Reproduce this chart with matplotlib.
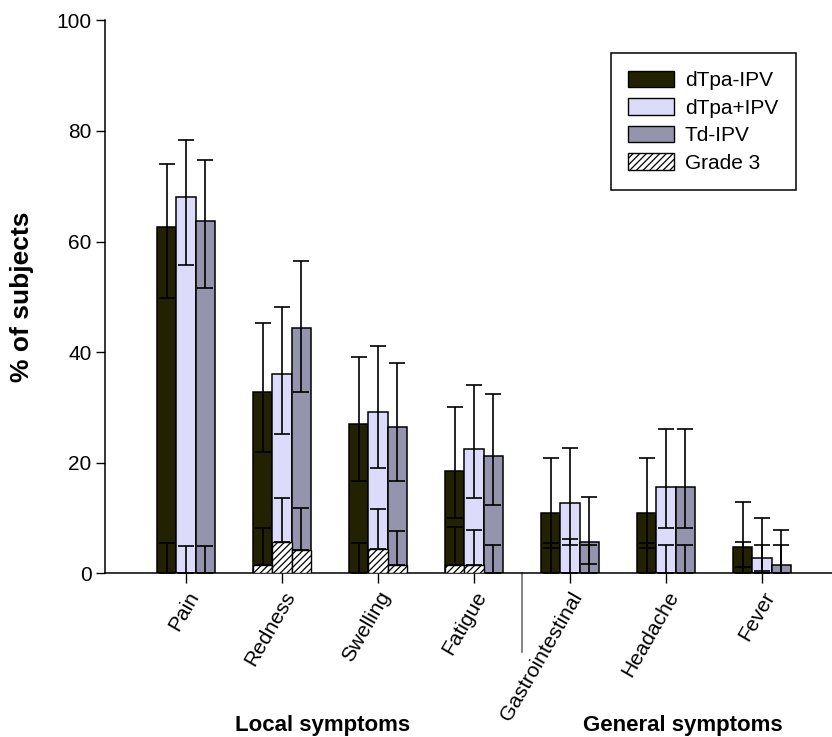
import numpy as np
import matplotlib
matplotlib.use('Agg')
import matplotlib.pyplot as plt
from matplotlib.patches import Patch

plt.rcParams['font.family'] = ['Liberation Sans', 'DejaVu Sans']
plt.rcParams['hatch.linewidth'] = 0.9

# Data
categories = ['Pain', 'Redness', 'Swelling', 'Fatigue', 'Gastrointestinal', 'Headache', 'Fever']
series = ['dTpa-IPV', 'dTpa+IPV', 'Td-IPV']
colors = ['#222200', '#dcdcfa', '#9494ac']

# all grades (%), with 95% CI bounds
dtpa_ipv = [62.7, 32.8, 26.9, 18.5, 10.8, 10.8, 4.65]
dtpa_ipv_hi = [74.1, 45.3, 39.1, 30.0, 20.9, 20.9, 12.9]
dtpa_ipv_lo = [49.8, 21.9, 16.7, 9.9, 4.5, 4.5, 1.0]

dtpa_plus_ipv = [68.0, 36.0, 29.2, 22.5, 12.7, 15.6, 2.8]
dtpa_plus_ipv_hi = [78.4, 48.2, 41.1, 34.1, 22.7, 26.0, 9.9]
dtpa_plus_ipv_lo = [55.8, 25.1, 19.0, 13.6, 5.1, 8.1, 0.3]

td_ipv = [63.8, 44.3, 26.4, 21.1, 5.7, 15.6, 1.5]
td_ipv_hi = [74.8, 56.5, 38.1, 32.4, 13.8, 26.0, 7.7]
td_ipv_lo = [51.6, 32.7, 16.7, 12.3, 1.6, 8.1, 0.0]

# grade 3 (%), with upper CI bound
g3_dtpa_ipv = [0, 1.45, 0, 1.45, 0, 0, 0]
g3_dtpa_ipv_hi = [5.4, 8.1, 5.4, 8.4, 5.5, 5.5, 5.6]
g3_dtpa_plus_ipv = [0, 5.6, 4.3, 1.45, 0, 0, 0]
g3_dtpa_plus_ipv_hi = [4.9, 13.6, 11.6, 7.7, 6.1, 5.1, 5.1]
g3_td_ipv = [0, 4.2, 1.4, 0, 0, 0, 0]
g3_td_ipv_hi = [4.9, 11.7, 7.6, 5.1, 5.1, 5.1, 5.1]

totals = [dtpa_ipv, dtpa_plus_ipv, td_ipv]
his = [dtpa_ipv_hi, dtpa_plus_ipv_hi, td_ipv_hi]
los = [dtpa_ipv_lo, dtpa_plus_ipv_lo, td_ipv_lo]
g3s = [g3_dtpa_ipv, g3_dtpa_plus_ipv, g3_td_ipv]
g3_his = [g3_dtpa_ipv_hi, g3_dtpa_plus_ipv_hi, g3_td_ipv_hi]

fig = plt.figure(figsize=(8.32, 7.37), dpi=100)
ax = fig.add_axes([0.1268, 0.2225, 0.8732, 0.7497])

x = np.arange(len(categories))
width = 0.2
err_kw = dict(fmt='none', ecolor='black', elinewidth=1.2, capsize=5.5, capthick=1.2, zorder=4)

for i in range(3):
    xs = x + (i - 1) * width
    vals = np.array(totals[i])
    ax.bar(xs, vals, width, color=colors[i], edgecolor='black', linewidth=1.1, zorder=2)
    ax.bar(xs, g3s[i], width, color='white', edgecolor='black', hatch='/////',
           linewidth=1.0, zorder=3)
    yerr = [vals - np.array(los[i]), np.array(his[i]) - vals]
    ax.errorbar(xs, vals, yerr=yerr, **err_kw)
    g3 = np.array(g3s[i], dtype=float)
    g3_err = [np.zeros_like(g3), np.array(g3_his[i]) - g3]
    ax.errorbar(xs, g3, yerr=g3_err, **err_kw)

ax.set_xlim(-0.839, 6.73)
ax.set_ylim(0, 100)
ax.set_yticks([0, 20, 40, 60, 80, 100])
ax.set_xticks(x)
ax.set_xticklabels(categories, rotation=60, ha='right', rotation_mode='anchor', fontsize=15)
ax.tick_params(axis='y', labelsize=15, length=6.5, width=1)
ax.tick_params(axis='x', length=7, width=1, pad=4)

for side in ['top', 'right']:
    ax.spines[side].set_visible(False)
ax.spines['left'].set_linewidth(1.1)
ax.spines['bottom'].set_linewidth(1.1)

# divider between local and general symptoms
ax.plot([3.5, 3.5], [0, -14.3], color='#707070', linewidth=1.2, clip_on=False)

fig.text(0.027, 0.597, '% of subjects', rotation=90, ha='center', va='center',
         fontsize=19, fontweight='bold')
fig.text(0.388, 0.015, 'Local symptoms', ha='center', va='center', fontsize=16, fontweight='bold')
fig.text(0.821, 0.015, 'General symptoms', ha='center', va='center', fontsize=16, fontweight='bold')

handles = [Patch(facecolor=c, edgecolor='black', linewidth=1.0) for c in colors]
handles.append(Patch(facecolor='white', edgecolor='black', hatch='/////', linewidth=1.0))
leg = ax.legend(handles, series + ['Grade 3'], loc='upper left',
                bbox_to_anchor=(0.734, 0.928), bbox_transform=fig.transFigure,
                borderaxespad=0, fontsize=15, frameon=True, fancybox=False,
                edgecolor='black', framealpha=1, borderpad=0.85, labelspacing=0.38,
                handlelength=2.2, handleheight=0.85, handletextpad=0.5)
leg.get_frame().set_linewidth(1.1)

fig.savefig('out.png', dpi=100)
